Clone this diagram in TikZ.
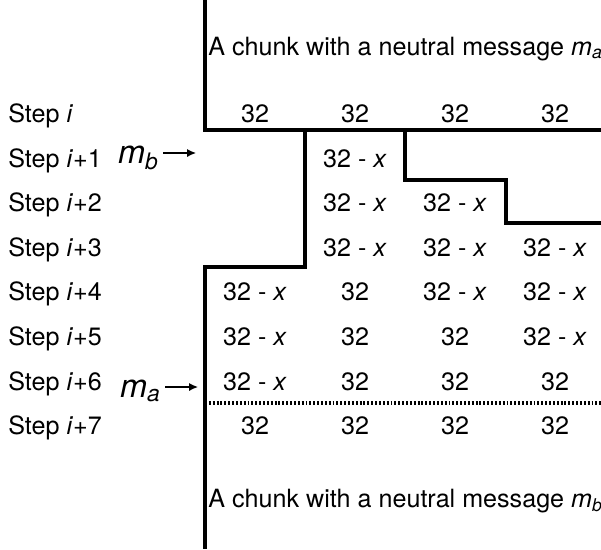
\documentclass[tikz,border=0pt]{standalone}
\usepackage{fontspec}
\setmainfont{TeX Gyre Heros}
\usetikzlibrary{arrows.meta}

\tikzset{
  txt/.style={inner sep=0pt, font=\fontsize{14.3}{16}\selectfont},
  steplabel/.style={txt, anchor=base west},
  cell/.style={txt, anchor=base},
  chunktext/.style={txt, anchor=base west},
  msg/.style={anchor=base west, inner sep=1pt, font=\fontsize{18.5}{22}\selectfont},
  wall/.style={line width=2pt},
  border/.style={line width=2pt, dash pattern=on 1.1pt off 1.1pt},
  msgarrow/.style={-{Latex[length=5pt,width=4.5pt]}, line width=0.7pt},
}
\newcommand{\lessx}{32 - \textit{x}}

\begin{document}
\begin{tikzpicture}[x=0.02cm, y=-0.02cm]
\useasboundingbox (0,0) rectangle (601,549);

% chunk texts
\node[chunktext] (chunka) at (208,55) {A chunk with a neutral message \textit{m}\textsubscript{\textit{a}}};
\node[chunktext] (chunkb) at (208,507) {A chunk with a neutral message \textit{m}\textsubscript{\textit{b}}};

% step labels
\node[steplabel] (s0) at (8,122) {Step \textit{i}};
\node[steplabel] (s1) at (8,167) {Step \textit{i}+1};
\node[steplabel] (s2) at (8,211) {Step \textit{i}+2};
\node[steplabel] (s3) at (8,256) {Step \textit{i}+3};
\node[steplabel] (s4) at (8,300) {Step \textit{i}+4};
\node[steplabel] (s5) at (8,345) {Step \textit{i}+5};
\node[steplabel] (s6) at (8,390) {Step \textit{i}+6};
\node[steplabel] (s7) at (8,434) {Step \textit{i}+7};

% step i
\node[cell] (c01) at (255,122) {32};
\node[cell] (c02) at (355,122) {32};
\node[cell] (c03) at (455,122) {32};
\node[cell] (c04) at (555,122) {32};
% step i+1
\node[cell] (c12) at (355,167) {\lessx};
% step i+2
\node[cell] (c22) at (355,211) {\lessx};
\node[cell] (c23) at (455,211) {\lessx};
% step i+3
\node[cell] (c32) at (355,256) {\lessx};
\node[cell] (c33) at (455,256) {\lessx};
\node[cell] (c34) at (555,256) {\lessx};
% step i+4
\node[cell] (c41) at (255,300) {\lessx};
\node[cell] (c42) at (355,300) {32};
\node[cell] (c43) at (455,300) {\lessx};
\node[cell] (c44) at (555,300) {\lessx};
% step i+5
\node[cell] (c51) at (255,345) {\lessx};
\node[cell] (c52) at (355,345) {32};
\node[cell] (c53) at (455,345) {32};
\node[cell] (c54) at (555,345) {\lessx};
% step i+6
\node[cell] (c61) at (255,390) {\lessx};
\node[cell] (c62) at (355,390) {32};
\node[cell] (c63) at (455,390) {32};
\node[cell] (c64) at (555,390) {32};
% step i+7
\node[cell] (c71) at (255,434) {32};
\node[cell] (c72) at (355,434) {32};
\node[cell] (c73) at (455,434) {32};
\node[cell] (c74) at (555,434) {32};

% messages
\node[msg] (mb) at (116,163) {\textit{m}\textsubscript{\textit{b}}};
\node[msg] (ma) at (118,397) {\textit{m}\textsubscript{\textit{a}}};
\coordinate (mbtip) at (196,153);
\coordinate (matip) at (198,387);
\draw[msgarrow] ([xshift=1.5pt]mb.east |- mbtip) -- (mbtip);
\draw[msgarrow] ([xshift=1.5pt]ma.east |- matip) -- (matip);

% chunk borders
\draw[wall] (205,0) -- (205,130) -- (601,130);
\draw[wall] (305,130) -- (305,267) -- (205,267) -- (205,549);
\draw[wall] (405,130) -- (405,180) -- (506,180) -- (506,223) -- (601,223);
\draw[border] (205,403) -- (601,403);
\end{tikzpicture}
\end{document}
